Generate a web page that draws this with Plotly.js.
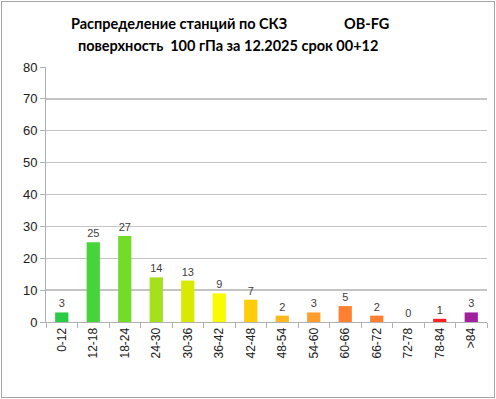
<!DOCTYPE html>
<html><head><meta charset="utf-8">
<script src="https://cdn.plot.ly/plotly-3.0.1.min.js"></script>
<style>
html,body{margin:0;padding:0;background:#fff;}
#wrap{position:relative;width:496px;height:399px;}
#chart{width:496px;height:399px;}
#frame{position:absolute;left:1px;top:1px;width:492px;height:395px;border:1.5px solid #a6a6a6;pointer-events:none;box-sizing:content-box;}
</style></head>
<body>
<div id="wrap"><div id="chart"></div><div id="frame"></div></div>
<script>
const categories = ["0-12","12-18","18-24","24-30","30-36","36-42","42-48","48-54","54-60","60-66","66-72","72-78","78-84",">84"];
const counts = [3,25,27,14,13,9,7,2,3,5,2,0,1,3];
const barColors = ["#2acb45","#45d53b","#73dc28","#a6e01a","#d8ea00","#fafa00","#ffcc0a","#ffb81e","#ff9e2c","#ff8030","#ff8030","#ff8030","#ff2020","#a020a0"];
const yTicks = [0,10,20,30,40,50,60,70,80];
const titleLine1a = "Распределение станций по СКЗ";
const titleLine1b = "OB-FG";
const titleLine2 = "поверхность\u00a0 100 гПа за 12.2025 срок 00+12";

const ML = 46, MR = 9, MT = 67, MB = 77, W = 496, H = 399;
const PW = W - ML - MR, PH = H - MT - MB;
const px = v => (v - ML) / PW;
const py = v => (H - MB - v) / PH;
const tFont = {family: "Lato, Carlito, sans-serif", size: 14.5, color: "#000000", weight: "bold"};
const lblFont = {family: "Liberation Sans, Arial, sans-serif", size: 11, color: "#404040"};

Plotly.newPlot("chart", [{
  type: "bar",
  x: categories,
  y: counts,
  marker: {color: barColors},
  text: counts.map(String),
  textposition: "outside",
  textfont: lblFont,
  outsidetextfont: lblFont,
  insidetextfont: lblFont,
  cliponaxis: false,
  hoverinfo: "none"
}], {
  width: W, height: H,
  margin: {l: ML, r: MR, t: MT, b: MB},
  paper_bgcolor: "#ffffff", plot_bgcolor: "#ffffff",
  font: {family: "Liberation Sans, Arial, sans-serif", size: 11, color: "#404040"},
  bargap: 0.58,
  showlegend: false,
  annotations: [
    {text: titleLine1a, xref: "paper", yref: "paper", x: px(69), y: py(24), xanchor: "left", yanchor: "middle", showarrow: false, font: tFont},
    {text: titleLine1b, xref: "paper", yref: "paper", x: px(342), y: py(24), xanchor: "left", yanchor: "middle", showarrow: false, font: tFont},
    {text: titleLine2, xref: "paper", yref: "paper", x: px(227.5), y: py(45), xanchor: "center", yanchor: "middle", showarrow: false, font: tFont}
  ],
  xaxis: {
    type: "category",
    tickangle: -90,
    tickfont: {family: "Liberation Sans, Arial, sans-serif", size: 12, color: "#202020"},
    showline: true, linecolor: "#b0b0b0", linewidth: 1,
    ticks: "outside", tickson: "boundaries", ticklen: 5, tickcolor: "#b0b0b0",
    showgrid: false
  },
  yaxis: {
    range: [0, 80],
    tickvals: yTicks,
    tickfont: {family: "Liberation Sans, Arial, sans-serif", size: 13, color: "#202020"},
    showline: true, linecolor: "#b0b0b0", linewidth: 1,
    ticks: "outside", ticklen: 5, tickcolor: "#b0b0b0",
    showgrid: true, gridcolor: "#c4c4c4", gridwidth: 1.3,
    zeroline: false
  }
}, {displayModeBar: false, staticPlot: true});
</script>
</body></html>
